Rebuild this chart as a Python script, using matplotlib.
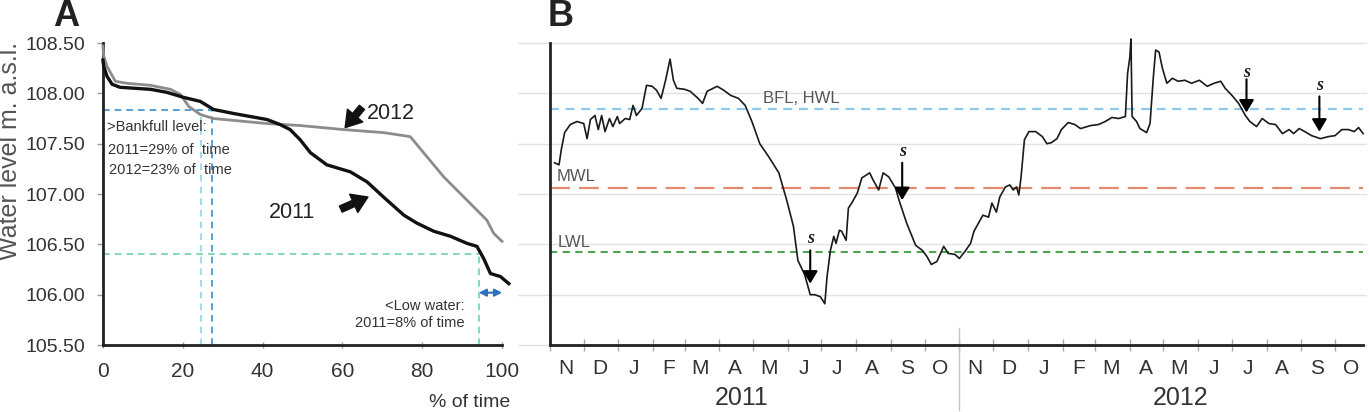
import numpy as np
import matplotlib
matplotlib.use("Agg")
import matplotlib.pyplot as plt
import matplotlib.dates as mdates
import matplotlib.ticker as mticker

plt.rcParams['font.family'] = ['Liberation Sans', 'DejaVu Sans']

# ---- panel A: duration curves (% of time vs level)
pct_2011 = [0, 0.2, 1, 2.3, 4.3, 11.9, 16, 20.2, 24.4, 27.7, 32.7, 41.1, 44.4, 46.9,
            49.4, 52, 56.1, 62, 66.2, 70.3, 75.4, 78.7, 82.9, 87.1, 91.2, 93.7, 95.4,
            97.1, 99.6, 101.7]
lvl_2011 = [108.33, 108.27, 108.17, 108.09, 108.06, 108.04, 108.01, 107.96, 107.92,
            107.84, 107.80, 107.74, 107.69, 107.64, 107.54, 107.41, 107.29, 107.22,
            107.12, 106.97, 106.79, 106.71, 106.63, 106.58, 106.51, 106.48, 106.36,
            106.21, 106.18, 106.11]
pct_2012 = [0, 0.2, 1, 3.1, 6, 11.9, 16.9, 19.4, 21.5, 24.4, 27.7, 41.1, 49.5, 60.3,
            70.3, 77, 81.2, 85.4, 91.2, 96.2, 97.9, 100]
lvl_2012 = [108.47, 108.37, 108.27, 108.12, 108.10, 108.08, 108.04, 107.99, 107.87,
            107.79, 107.75, 107.70, 107.68, 107.64, 107.61, 107.57, 107.37, 107.17,
            106.94, 106.74, 106.61, 106.53]

bankfull = 107.83
bank_pct_2011 = 27.3
bank_pct_2012 = 24.6
low_level = 106.40
low_pct = 94.2

# ---- panel B: daily water level, days since 2010-11-01
days = [4, 8, 10, 13, 18, 24, 30, 33, 36, 40, 43, 46, 49, 53, 56, 60, 62, 67, 71, 74,
        77, 82, 86, 91, 95, 99, 103, 107, 110, 113, 120, 125, 132, 136, 140, 149, 155,
        161, 168, 174, 180, 187, 195, 204, 211, 217, 221, 227, 232, 236, 241, 245, 247,
        250, 253, 255, 258, 260, 264, 266, 269, 274, 278, 285, 288, 293, 297, 302, 308,
        312, 318, 326, 332, 336, 340, 345, 351, 355, 361, 365, 370, 375, 378, 382, 386,
        391, 394, 398, 401, 406, 410, 413, 416, 418, 420, 423, 427, 433, 439, 443, 447,
        452, 456, 462, 468, 473, 482, 489, 495, 501, 507, 513, 515, 517, 518, 519, 523,
        526, 532, 535, 538, 540, 543, 546, 550, 555, 560, 566, 572, 579, 586, 592, 598,
        602, 608, 614, 620, 624, 630, 635, 641, 647, 653, 659, 663, 668, 673, 679, 687,
        694, 700, 706, 712, 717, 721, 725]
level = [107.31, 107.29, 107.44, 107.61, 107.69, 107.72, 107.70, 107.55, 107.74, 107.78,
         107.64, 107.78, 107.62, 107.75, 107.67, 107.77, 107.70, 107.75, 107.74, 107.88,
         107.78, 107.85, 108.08, 108.07, 108.03, 107.95, 108.13, 108.34, 108.13, 108.05,
         108.04, 108.02, 107.95, 107.90, 108.02, 108.07, 108.03, 107.98, 107.95, 107.88,
         107.72, 107.50, 107.37, 107.21, 106.94, 106.68, 106.34, 106.20, 106.00, 106.00,
         105.98, 105.91, 106.18, 106.44, 106.58, 106.51, 106.64, 106.63, 106.54, 106.86,
         106.91, 107.01, 107.16, 107.21, 107.14, 107.04, 107.21, 107.17, 107.06, 106.91,
         106.71, 106.49, 106.44, 106.38, 106.30, 106.33, 106.48, 106.41, 106.40, 106.36,
         106.43, 106.51, 106.63, 106.71, 106.79, 106.77, 106.91, 106.82, 106.97, 107.07,
         107.09, 107.04, 107.07, 106.99, 107.17, 107.54, 107.62, 107.62, 107.57, 107.50,
         107.51, 107.55, 107.64, 107.71, 107.69, 107.65, 107.68, 107.69, 107.72, 107.76,
         107.75, 107.77, 108.20, 108.36, 108.54, 107.77, 107.72, 107.65, 107.61, 107.70,
         108.17, 108.43, 108.41, 108.25, 108.10, 108.15, 108.12, 108.13, 108.10, 108.13,
         108.07, 108.10, 108.12, 108.05, 107.98, 107.90, 107.78, 107.72, 107.67, 107.75,
         107.70, 107.69, 107.60, 107.64, 107.60, 107.65, 107.62, 107.58, 107.55, 107.57,
         107.58, 107.64, 107.64, 107.62, 107.66, 107.60]

bfl = 107.84
mwl = 107.06
lwl = 106.42

s_days = [232, 314, 621, 686]
s_text = [106.56, 107.42, 108.21, 108.08]
s_tail = [106.44, 107.31, 108.14, 107.97]
s_tip = [106.11, 106.94, 107.81, 107.62]

start = np.datetime64('2010-11-01')
dates = start + np.array(days).astype('timedelta64[D]')
s_dates = start + np.array(s_days).astype('timedelta64[D]')

fig = plt.figure(figsize=(13.69, 4.12), dpi=100)
ax1 = fig.add_axes([0.0752, 0.1626, 0.2915, 0.733])
ax2 = fig.add_axes([0.4018, 0.1626, 0.5939, 0.733])

txt = '#333333'

# ---------------- panel A
ax1.plot(pct_2012, lvl_2012, color='#8c8c8c', lw=2.0, clip_on=False, zorder=3)
ax1.plot(pct_2011, lvl_2011, color='#111111', lw=2.4, clip_on=False, zorder=4)

ax1.plot([0, bank_pct_2011], [bankfull, bankfull], color='#3a8fd0', lw=1.2, ls=(0, (4, 3)))
ax1.plot([bank_pct_2011, bank_pct_2011], [105.5, bankfull], color='#3a8fd0', lw=1.2, ls=(0, (4, 3)))
ax1.plot([bank_pct_2012, bank_pct_2012], [105.5, 107.78], color='#8fd6ea', lw=1.2, ls=(0, (4, 3)))
ax1.plot([0, low_pct], [low_level, low_level], color='#6fd3a8', lw=1.2, ls=(0, (4, 3)))
ax1.plot([low_pct, low_pct], [105.5, low_level], color='#6fd3a8', lw=1.2, ls=(0, (4, 3)))
ax1.annotate('', xy=(100, 106.02), xytext=(low_pct, 106.02),
             arrowprops=dict(arrowstyle='<|-|>,head_length=0.35,head_width=0.18',
                             color='#2f6fbf', lw=1.5, mutation_scale=12,
                             shrinkA=0, shrinkB=0))

ax1.text(1.0, 107.67, '>Bankfull level:', fontsize=10.5, color=txt, va='center')
ax1.text(1.3, 107.44, '2011=29% of  time', fontsize=10.5, color=txt, va='center')
ax1.text(1.5, 107.24, '2012=23% of  time', fontsize=10.5, color=txt, va='center')
ax1.text(90.7, 105.89, '<Low water:', fontsize=10.5, color=txt, va='center', ha='right')
ax1.text(90.7, 105.72, '2011=8% of time', fontsize=10.5, color=txt, va='center', ha='right')

ax1.text(72.2, 107.80, '2012', fontsize=15.5, color='#222222', va='center', ha='center')
ax1.text(47.4, 106.82, '2011', fontsize=15.5, color='#222222', va='center', ha='center')
big_arrow = dict(arrowstyle='simple,head_length=0.7,head_width=0.9,tail_width=0.3',
                 color='#111111', mutation_scale=16, shrinkA=0, shrinkB=0)
ax1.annotate('', xy=(60.7, 107.66), xytext=(64.9, 107.86), arrowprops=big_arrow)
ax1.annotate('', xy=(66.4, 106.97), xytext=(59.6, 106.85), arrowprops=big_arrow)

ax1.set_xlim(0, 100)
ax1.set_ylim(105.5, 108.5)
ax1.set_xticks([0, 20, 40, 60, 80, 100])
ax1.set_yticks([105.5, 106.0, 106.5, 107.0, 107.5, 108.0, 108.5])
ax1.yaxis.set_major_formatter(mticker.FormatStrFormatter('%.2f'))
ax1.tick_params(axis='y', labelsize=14, colors='#999999', labelcolor=txt,
                length=4, width=1, pad=9)
ax1.tick_params(axis='x', labelsize=15, colors='#999999', labelcolor=txt,
                length=5, width=1, direction='inout', pad=10)
for side in ['top', 'right']:
    ax1.spines[side].set_visible(False)
for side in ['left', 'bottom']:
    ax1.spines[side].set_color('#222222')
    ax1.spines[side].set_linewidth(2)
ax1.text(1.02, -0.19, '% of time', transform=ax1.transAxes, fontsize=14,
         color=txt, ha='right', va='center')

# ---------------- panel B
for g in [105.5, 106.0, 106.5, 107.0, 107.5, 108.0, 108.5]:
    ax2.axhline(g, xmin=-0.04, xmax=1.003, color='#e2e2e2', lw=1, clip_on=False, zorder=0)
ax2.axhline(bfl, color='#8ec9ec', lw=1.6, ls=(0, (4, 3)), zorder=1)
ax2.axhline(mwl, color='#e58a6e', lw=1.6, ls=(0, (9, 4)), zorder=1)
ax2.axhline(lwl, color='#3c9a3c', lw=1.3, ls=(0, (4, 3)), zorder=1)

ax2.plot(dates, level, color='#1a1a1a', lw=1.2, clip_on=False, zorder=3)

for d, t, a, b in zip(s_dates, s_text, s_tail, s_tip):
    ax2.annotate('', xy=(d, b), xytext=(d, a),
                 arrowprops=dict(arrowstyle='-|>,head_length=0.5,head_width=0.3',
                                 color='black', lw=1.5, mutation_scale=15,
                                 shrinkA=0, shrinkB=0), zorder=5)
    ax2.text(d, t, 's', fontsize=13, fontweight='bold', fontstyle='italic',
             family=['Liberation Serif', 'DejaVu Serif'], ha='center', va='center',
             color='#222222')

ax2.text(start + np.timedelta64(190, 'D'), 107.95, 'BFL, HWL', fontsize=12,
         color='#555555', va='center')
ax2.text(start + np.timedelta64(6, 'D'), 107.17, 'MWL', fontsize=12,
         color='#555555', va='center')
ax2.text(start + np.timedelta64(7, 'D'), 106.52, 'LWL', fontsize=12,
         color='#555555', va='center')

ax2.set_xlim(np.datetime64('2010-11-01'), np.datetime64('2012-10-26'))
ax2.set_ylim(105.5, 108.5)
ax2.set_yticks([])
ax2.xaxis.set_major_locator(mdates.MonthLocator())
ax2.xaxis.set_major_formatter(mticker.NullFormatter())
ax2.xaxis.set_minor_locator(mdates.MonthLocator(bymonthday=15))
ax2.xaxis.set_minor_formatter(
    mticker.FuncFormatter(lambda v, p: mdates.num2date(v).strftime('%b')[0]))
ax2.tick_params(axis='x', which='major', colors='#aaaaaa', length=8, width=1,
                direction='inout')
ax2.tick_params(axis='x', which='minor', length=0, labelsize=15, labelcolor=txt, pad=10)
for side in ['top', 'right']:
    ax2.spines[side].set_visible(False)
for side in ['left', 'bottom']:
    ax2.spines[side].set_color('#222222')
    ax2.spines[side].set_linewidth(2)

ax2.plot([np.datetime64('2011-11-01')] * 2, [0.056, -0.215], color='#c4c4c4', lw=1,
         transform=ax2.get_xaxis_transform(), clip_on=False)

fig.text(0.542, 0.034, '2011', fontsize=18, color=txt, ha='center', va='center')
fig.text(0.8627, 0.034, '2012', fontsize=18, color=txt, ha='center', va='center')

fig.text(0.0075, 0.633, 'Water level m. a.s.l.', rotation=90, fontsize=18,
         color='#555555', ha='center', va='center')
fig.text(0.0385, 0.937, 'A', fontsize=26, fontweight='bold', color='#222222')
fig.text(0.400, 0.937, 'B', fontsize=26, fontweight='bold', color='#222222')

fig.savefig('out.png', dpi=100)
